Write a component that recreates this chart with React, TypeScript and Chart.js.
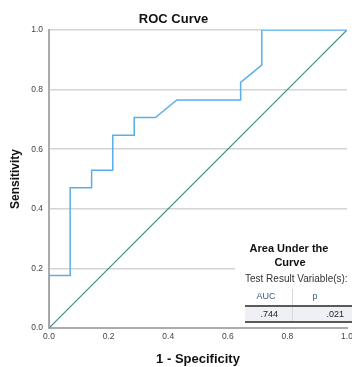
import React, { useEffect, useRef } from "react";
import { Chart, registerables } from "chart.js";

Chart.register(...registerables);

// ROC curve coordinates (1 - specificity, sensitivity)
const rocFpr = [0, 0, 0.071, 0.071, 0.143, 0.143, 0.214, 0.214, 0.286, 0.286, 0.357, 0.429, 0.643, 0.643, 0.714, 0.714, 1];
const rocTpr = [0, 0.176, 0.176, 0.471, 0.471, 0.529, 0.529, 0.647, 0.647, 0.706, 0.706, 0.765, 0.765, 0.824, 0.882, 1, 1];
// reference line
const refX = [0, 1];
const refY = [0, 1];

const tableTitle = ["Area Under the", "Curve"];
const tableSubtitle = "Test Result Variable(s):";
const tableHeaders = ["AUC", "p"];
const tableValues = [".744", ".021"];

const FONT = "'Liberation Sans', Arial, sans-serif";

const tablePlugin = {
  id: "aucTable",
  afterDraw(chart: any) {
    const ctx = chart.ctx as CanvasRenderingContext2D;
    ctx.save();
    // white background covering the plot
    ctx.fillStyle = "#ffffff";
    ctx.fillRect(235, 237, 117, 89);
    ctx.textBaseline = "middle";
    // title
    ctx.fillStyle = "#111111";
    ctx.font = `bold 11px ${FONT}`;
    ctx.textAlign = "center";
    ctx.fillText(tableTitle[0], 289, 249);
    ctx.fillText(tableTitle[1], 290, 263);
    // subtitle
    ctx.font = `10px ${FONT}`;
    ctx.fillStyle = "#333333";
    ctx.textAlign = "left";
    ctx.fillText(tableSubtitle, 245, 279);
    // header
    ctx.font = `9px ${FONT}`;
    ctx.fillStyle = "#3d5a7c";
    ctx.textAlign = "center";
    ctx.fillText(tableHeaders[0], 266, 297);
    ctx.fillText(tableHeaders[1], 315, 297);
    // row background
    ctx.fillStyle = "#eff0f5";
    ctx.fillRect(245, 307, 107, 14);
    // divider
    ctx.strokeStyle = "#d8d8d8";
    ctx.lineWidth = 1;
    ctx.beginPath();
    ctx.moveTo(292.5, 289);
    ctx.lineTo(292.5, 322);
    ctx.stroke();
    // rule lines
    ctx.strokeStyle = "#5a5a5a";
    ctx.lineWidth = 2;
    ctx.beginPath();
    ctx.moveTo(245, 306);
    ctx.lineTo(352, 306);
    ctx.moveTo(245, 322);
    ctx.lineTo(352, 322);
    ctx.stroke();
    // values
    ctx.fillStyle = "#222222";
    ctx.textAlign = "right";
    ctx.fillText(tableValues[0], 278, 315);
    ctx.fillText(tableValues[1], 344, 315);
    ctx.restore();
  },
};

export default function App() {
  const ref = useRef<HTMLCanvasElement | null>(null);
  useEffect(() => {
    if (!ref.current) return;
    const chart = new Chart(ref.current, {
      type: "line",
      data: {
        datasets: [
          {
            label: "ROC",
            data: rocFpr.map((x, i) => ({ x, y: rocTpr[i] })),
            borderColor: "#5aaee9",
            borderWidth: 1.5,
            pointRadius: 0,
            tension: 0,
            fill: false,
          },
          {
            label: "Reference",
            data: refX.map((x, i) => ({ x, y: refY[i] })),
            borderColor: "#3b8a84",
            borderWidth: 1.2,
            pointRadius: 0,
            tension: 0,
            fill: false,
          },
        ],
      },
      options: {
        responsive: false,
        animation: false,
        layout: { padding: { left: 0, right: 5, top: 0, bottom: 0 } },
        plugins: {
          legend: { display: false },
          tooltip: { enabled: false },
          title: {
            display: true,
            text: "ROC Curve",
            color: "#111111",
            font: { family: FONT, size: 13, weight: "bold" },
            padding: { top: 12, bottom: 2.4 },
          },
        },
        scales: {
          x: {
            type: "linear",
            min: 0,
            max: 1,
            afterFit(s: any) {
              s.height = 39;
              s.paddingLeft = 0;
              s.paddingRight = 0;
            },
            ticks: {
              stepSize: 0.2,
              padding: 4,
              color: "#444444",
              font: { family: FONT, size: 8.5 },
              callback: (v: any) => Number(v).toFixed(1),
            },
            grid: { color: "rgba(0,0,0,0)", drawTicks: false },
            border: { display: true, color: "#ababab", width: 2 },
            title: {
              display: true,
              text: "1 - Specificity",
              color: "#111111",
              font: { family: FONT, size: 13, weight: "bold" },
              padding: { top: 0, bottom: 0 },
            },
          },
          y: {
            type: "linear",
            min: 0,
            max: 1,
            afterFit(s: any) {
              s.width = 49;
              s.paddingTop = 0;
              s.paddingBottom = 0;
            },
            ticks: {
              stepSize: 0.2,
              padding: 6,
              color: "#444444",
              font: { family: FONT, size: 8.5 },
              callback: (v: any) => Number(v).toFixed(1),
            },
            grid: { color: "#d4d4d4", lineWidth: 1.5, drawTicks: false },
            border: { display: true, color: "#ababab", width: 2 },
            title: {
              display: true,
              text: "Sensitivity",
              color: "#111111",
              font: { family: FONT, size: 12, weight: "bold" },
              padding: { top: 8, bottom: 0 },
            },
          },
        },
      },
      plugins: [tablePlugin],
    });
    return () => chart.destroy();
  }, []);
  return (
    <div style={{ position: "fixed", left: 0, top: 0, width: 352, height: 367, background: "#ffffff" }}>
      <canvas ref={ref} width={352} height={367} />
    </div>
  );
}
